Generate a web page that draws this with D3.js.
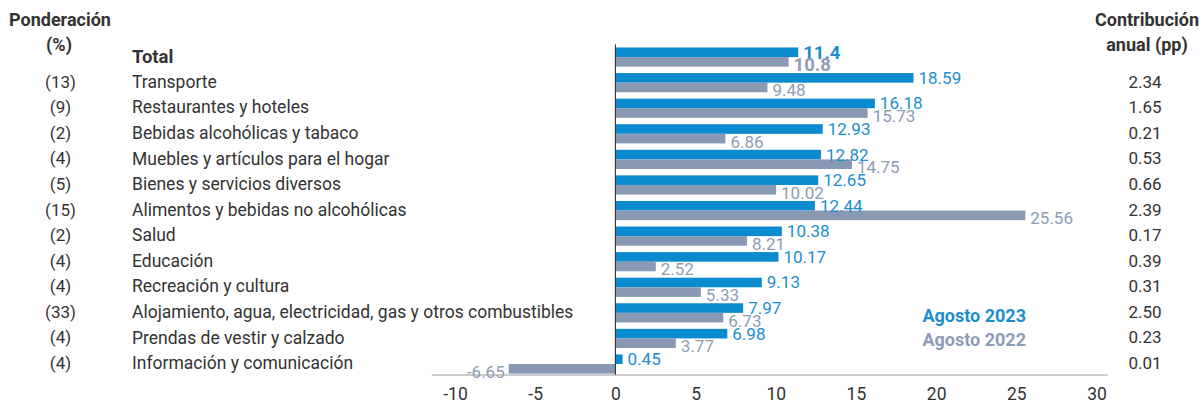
<!DOCTYPE html>
<html>
<head>
<meta charset="utf-8">
<script src="https://cdn.jsdelivr.net/npm/d3@7"></script>
<style>
  body { margin: 0; background: #fff; }
  svg { display: block; font-family: Roboto, "Noto Sans", sans-serif; }
</style>
</head>
<body>
<svg id="chart" width="1203" height="405"></svg>
<script>
// data
var categories = ["Total", "Transporte", "Restaurantes y hoteles", "Bebidas alcohólicas y tabaco",
  "Muebles y artículos para el hogar", "Bienes y servicios diversos", "Alimentos y bebidas no alcohólicas",
  "Salud", "Educación", "Recreación y cultura",
  "Alojamiento, agua, electricidad, gas y otros combustibles", "Prendas de vestir y calzado",
  "Información y comunicación"];
var weights = ["", "(13)", "(9)", "(2)", "(4)", "(5)", "(15)", "(2)", "(4)", "(4)", "(33)", "(4)", "(4)"];
var aug2023 = [11.4, 18.59, 16.18, 12.93, 12.82, 12.65, 12.44, 10.38, 10.17, 9.13, 7.97, 6.98, 0.45];
var aug2022 = [10.8, 9.48, 15.73, 6.86, 14.75, 10.02, 25.56, 8.21, 2.52, 5.33, 6.73, 3.77, -6.65];
var contrib = ["", "2.34", "1.65", "0.21", "0.53", "0.66", "2.39", "0.17", "0.39", "0.31", "2.50", "0.23", "0.01"];
var xTicks = [-10, -5, 0, 5, 10, 15, 20, 25, 30];
var seriesNames = ["Agosto 2023", "Agosto 2022"];

var blue = "#0a8bd0", gray = "#8a99b3",
    blueText = "#1b8ed0", grayText = "#8e9cb6", dark = "#333";

var svg = d3.select("#chart");

var x = d3.scaleLinear().domain([-10, 30]).range([455, 1096.5]);
var y = d3.scaleBand().domain(d3.range(categories.length)).range([44.3, 376.8]);
var barH = 9.6;

var rows = categories.map(function(c, i) {
  return { i: i, name: c, w: weights[i], a: aug2023[i], b: aug2022[i], c: contrib[i] };
});

// headers
function header(tx, ty, s) {
  svg.append("text").attr("x", tx).attr("y", ty).attr("text-anchor", "middle")
    .attr("font-size", 18).attr("font-weight", "bold").attr("fill", dark).text(s);
}
header(60, 26, "Ponderación");
header(59, 51, "(%)");
header(1147, 26, "Contribución");
header(1147, 51, "anual (pp)");

var row = svg.selectAll("g.row").data(rows).enter().append("g").attr("class", "row");

// left columns
row.append("text")
  .attr("x", 60.5).attr("y", function(d) { return y(d.i) + y.bandwidth() / 2 - 1; })
  .attr("dy", "0.35em").attr("text-anchor", "middle").attr("font-size", 17).attr("fill", dark)
  .text(function(d) { return d.w; });
row.append("text")
  .attr("x", 132).attr("y", function(d) { return y(d.i) + y.bandwidth() / 2 - 1; })
  .attr("dy", "0.35em").attr("fill", dark)
  .attr("font-size", function(d) { return d.i == 0 ? 18.5 : 17.5; })
  .attr("font-weight", function(d) { return d.i == 0 ? "bold" : null; })
  .text(function(d) { return d.name; });
// right column
row.append("text")
  .attr("x", 1145).attr("y", function(d) { return y(d.i) + y.bandwidth() / 2 - 1; })
  .attr("dy", "0.35em").attr("text-anchor", "middle").attr("font-size", 17).attr("fill", dark)
  .text(function(d) { return d.c; });

// bars
function barTop(d) { return y(d.i) + y.bandwidth() / 2 - barH; }
row.append("rect")
  .attr("x", function(d) { return x(Math.min(0, d.a)); })
  .attr("y", barTop)
  .attr("width", function(d) { return Math.abs(x(d.a) - x(0)); })
  .attr("height", barH).attr("fill", blue);
row.append("rect")
  .attr("x", function(d) { return x(Math.min(0, d.b)); })
  .attr("y", function(d) { return barTop(d) + barH; })
  .attr("width", function(d) { return Math.abs(x(d.b) - x(0)); })
  .attr("height", barH).attr("fill", gray);

// value labels (plain hyphen for negatives, like the reference)
function fmt(d, v) { return v.toFixed(d.i == 0 ? 1 : 2); }
row.append("text")
  .attr("x", function(d) { return d.a < 0 ? x(d.a) - 4 : x(d.a) + 5; })
  .attr("y", function(d) { return barTop(d) + barH / 2; })
  .attr("dy", "0.35em")
  .attr("text-anchor", function(d) { return d.a < 0 ? "end" : "start"; })
  .attr("font-size", function(d) { return d.i == 0 ? 18.5 : 17; })
  .attr("font-weight", function(d) { return d.i == 0 ? "bold" : null; })
  .attr("fill", blueText)
  .text(function(d) { return fmt(d, d.a); });
row.append("text")
  .attr("x", function(d) { return d.b < 0 ? x(d.b) - 4 : x(d.b) + 5; })
  .attr("y", function(d) { return barTop(d) + barH * 1.5 + 3; })
  .attr("dy", "0.35em")
  .attr("text-anchor", function(d) { return d.b < 0 ? "end" : "start"; })
  .attr("font-size", function(d) { return d.i == 0 ? 18.5 : 17; })
  .attr("font-weight", function(d) { return d.i == 0 ? "bold" : null; })
  .attr("fill", grayText)
  .text(function(d) { return fmt(d, d.b); });

// zero line
svg.append("line")
  .attr("x1", x(0)).attr("x2", x(0))
  .attr("y1", y.range()[0]).attr("y2", 375)
  .attr("stroke", "#222").attr("stroke-width", 1);

// x axis
var axis = svg.append("g").attr("transform", "translate(0,375)")
  .call(d3.axisBottom(x).tickValues(xTicks).tickSize(0).tickPadding(13)
    .tickFormat(function(d) { return String(d); }));
axis.select(".domain").remove();
axis.insert("line", ":first-child")
  .attr("x1", x(-11.45)).attr("x2", x(30.7))
  .attr("stroke", "#9a9a9a").attr("stroke-width", 1.2);
axis.selectAll("text").attr("font-size", 17.5).attr("fill", dark)
  .attr("font-family", "Roboto, sans-serif");

// legend
svg.selectAll("text.legend").data(seriesNames).enter().append("text")
  .attr("class", "legend")
  .attr("x", 1026).attr("y", function(d, i) { return 316 + i * 24; })
  .attr("dy", "0.35em").attr("text-anchor", "end")
  .attr("font-size", 18).attr("font-weight", "bold")
  .attr("fill", function(d, i) { return i == 0 ? blueText : grayText; })
  .text(function(d) { return d; });
</script>
</body>
</html>
